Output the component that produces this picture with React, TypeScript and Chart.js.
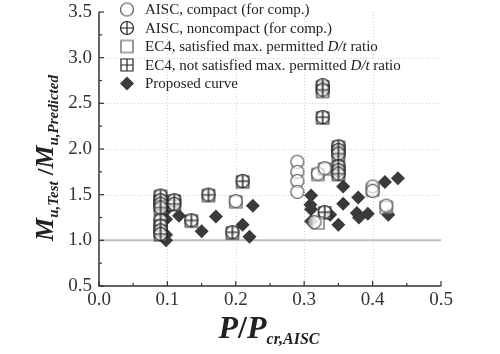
import { useEffect, useRef } from "react";
import { Chart, registerables } from "chart.js";
Chart.register(...registerables);

const SERIF = '"Liberation Serif", "Times New Roman", serif';

const xTicks = [0, 0.1, 0.2, 0.3, 0.4, 0.5];
const yTicks = [0.5, 1.0, 1.5, 2.0, 2.5, 3.0, 3.5];

const legendLabels = [
  "AISC, compact (for comp.)",
  "AISC, noncompact (for comp.)",
  "EC4, satisfied max. permitted D/t ratio",
  "EC4, not satisfied max. permitted D/t ratio",
  "Proposed curve",
];

const aiscCompactX = [0.2, 0.29, 0.29, 0.29, 0.29, 0.32, 0.33, 0.315, 0.4, 0.4, 0.42];
const aiscCompactY = [1.43, 1.86, 1.75, 1.65, 1.53, 1.73, 1.79, 1.2, 1.59, 1.54, 1.38];

const aiscNonX = [0.09, 0.09, 0.09, 0.09, 0.09, 0.09, 0.09, 0.09, 0.11, 0.11, 0.135, 0.16, 0.195, 0.21, 0.327, 0.327, 0.327, 0.35, 0.35, 0.35, 0.35, 0.35, 0.35, 0.33];
const aiscNonY = [1.49, 1.44, 1.4, 1.36, 1.22, 1.16, 1.11, 1.07, 1.44, 1.4, 1.22, 1.5, 1.09, 1.65, 2.7, 2.65, 2.35, 2.03, 1.99, 1.95, 1.81, 1.77, 1.73, 1.31];

const ec4SatX = [0.2, 0.32, 0.33, 0.32, 0.4, 0.42];
const ec4SatY = [1.42, 1.72, 1.78, 1.19, 1.55, 1.36];

const ec4NotX = [0.09, 0.09, 0.09, 0.09, 0.09, 0.09, 0.09, 0.09, 0.11, 0.11, 0.135, 0.16, 0.195, 0.21, 0.327, 0.327, 0.327, 0.35, 0.35, 0.35, 0.35, 0.35, 0.35, 0.33];
const ec4NotY = [1.48, 1.43, 1.39, 1.35, 1.21, 1.15, 1.1, 1.06, 1.43, 1.39, 1.21, 1.49, 1.08, 1.64, 2.68, 2.63, 2.34, 2.02, 1.98, 1.94, 1.8, 1.76, 1.72, 1.3];

const proposedX = [0.098, 0.098, 0.098, 0.098, 0.117, 0.15, 0.171, 0.21, 0.22, 0.225, 0.31, 0.309, 0.31, 0.31, 0.338, 0.35, 0.357, 0.357, 0.379, 0.377, 0.38, 0.393, 0.418, 0.437, 0.423];
const proposedY = [1.33, 1.23, 1.06, 1.0, 1.27, 1.1, 1.26, 1.17, 1.04, 1.38, 1.49, 1.39, 1.34, 1.21, 1.28, 1.17, 1.59, 1.4, 1.47, 1.3, 1.25, 1.29, 1.64, 1.68, 1.28];

const pts = (xs: number[], ys: number[]) => xs.map((x, i) => ({ x, y: ys[i] }));

function makeMarker(kind: "circle" | "circleCross" | "square" | "squareCross") {
  const c = document.createElement("canvas");
  c.width = 18;
  c.height = 18;
  const g = c.getContext("2d")!;
  const cx = 9, cy = 9;
  g.lineWidth = 1.2;
  if (kind === "circle" || kind === "circleCross") {
    g.strokeStyle = kind === "circle" ? "#555" : "#222";
    g.fillStyle = "rgba(255,255,255,0.6)";
    g.beginPath();
    g.arc(cx, cy, 6.5, 0, Math.PI * 2);
    g.fill();
    g.stroke();
    if (kind === "circleCross") {
      g.beginPath();
      g.moveTo(cx - 6.5, cy);
      g.lineTo(cx + 6.5, cy);
      g.moveTo(cx, cy - 6.5);
      g.lineTo(cx, cy + 6.5);
      g.stroke();
    }
  } else {
    g.strokeStyle = kind === "square" ? "#555" : "#222";
    g.fillStyle = "rgba(255,255,255,0.6)";
    g.beginPath();
    g.rect(cx - 6, cy - 6, 12, 12);
    g.fill();
    g.stroke();
    if (kind === "squareCross") {
      g.beginPath();
      g.moveTo(cx - 6, cy);
      g.lineTo(cx + 6, cy);
      g.moveTo(cx, cy - 6);
      g.lineTo(cx, cy + 6);
      g.stroke();
    }
  }
  return c;
}

type Seg = { t: string; size: number; italic: boolean; dy: number };

function drawSegs(ctx: CanvasRenderingContext2D, segs: Seg[], x0: number, y0: number, center: boolean) {
  const font = (s: Seg) => `${s.italic ? "italic " : ""}bold ${s.size}px ${SERIF}`;
  let total = 0;
  segs.forEach((s) => {
    ctx.font = font(s);
    total += ctx.measureText(s.t).width;
  });
  let x = center ? x0 - total / 2 : x0;
  segs.forEach((s) => {
    ctx.font = font(s);
    ctx.fillText(s.t, x, y0 + s.dy);
    x += ctx.measureText(s.t).width;
  });
}

export default function App() {
  const ref = useRef<HTMLCanvasElement>(null);
  useEffect(() => {
    document.body.style.margin = "0";
    const mCircle = makeMarker("circle");
    const mCircleCross = makeMarker("circleCross");
    const mSquare = makeMarker("square");
    const mSquareCross = makeMarker("squareCross");

    const frame = {
      id: "frame",
      beforeDatasetsDraw(chart: any) {
        const ctx: CanvasRenderingContext2D = chart.ctx;
        const xs = chart.scales.x;
        const ys = chart.scales.y;
        const { left, right, top, bottom } = chart.chartArea;
        ctx.save();
        ctx.strokeStyle = "#d0d0d0";
        ctx.lineWidth = 1;
        ctx.setLineDash([1, 2]);
        xTicks.forEach((v) => {
          if (v <= 0 || v >= 0.5) return;
          const px = Math.round(xs.getPixelForValue(v)) + 0.5;
          ctx.beginPath();
          ctx.moveTo(px, top);
          ctx.lineTo(px, bottom);
          ctx.stroke();
        });
        yTicks.forEach((v) => {
          if (v <= 1.0 || v >= 3.5) return;
          const py = Math.round(ys.getPixelForValue(v)) + 0.5;
          ctx.beginPath();
          ctx.moveTo(left, py);
          ctx.lineTo(right, py);
          ctx.stroke();
        });
        ctx.setLineDash([]);
        ctx.strokeStyle = "#bdbdbd";
        ctx.lineWidth = 2;
        const p1 = ys.getPixelForValue(1.0);
        ctx.beginPath();
        ctx.moveTo(left, p1);
        ctx.lineTo(right, p1);
        ctx.stroke();
        ctx.strokeStyle = "#333";
        ctx.lineWidth = 1.5;
        ctx.beginPath();
        ctx.moveTo(left, top);
        ctx.lineTo(left, bottom);
        ctx.lineTo(right, bottom);
        ctx.stroke();
        ctx.lineWidth = 1.2;
        for (let i = 0; i <= 10; i++) {
          const v = i * 0.05;
          const px = xs.getPixelForValue(v);
          const len = i % 2 === 0 ? 5 : 3;
          ctx.beginPath();
          ctx.moveTo(px, bottom);
          ctx.lineTo(px, bottom - len);
          ctx.stroke();
        }
        for (let i = 0; i <= 12; i++) {
          const v = 0.5 + i * 0.25;
          const py = ys.getPixelForValue(v);
          const len = i % 2 === 0 ? 5 : 3;
          ctx.beginPath();
          ctx.moveTo(left, py);
          ctx.lineTo(left + len, py);
          ctx.stroke();
        }
        ctx.fillStyle = "#333";
        ctx.font = `19px ${SERIF}`;
        ctx.textAlign = "center";
        ctx.textBaseline = "middle";
        xTicks.forEach((v) => {
          ctx.fillText(v.toFixed(1), xs.getPixelForValue(v), bottom + 14);
        });
        ctx.textAlign = "right";
        yTicks.forEach((v) => {
          ctx.fillText(v.toFixed(1), left - 7, ys.getPixelForValue(v));
        });
        ctx.fillStyle = "#222";
        ctx.textAlign = "left";
        ctx.textBaseline = "alphabetic";
        drawSegs(
          ctx,
          [
            { t: "P", size: 32, italic: true, dy: 0 },
            { t: "/", size: 32, italic: false, dy: 0 },
            { t: "P", size: 32, italic: true, dy: 0 },
            { t: "cr,AISC", size: 16, italic: true, dy: 6 },
          ],
          (left + right) / 2 - 1,
          338,
          true
        );
        ctx.save();
        ctx.translate(53, 158);
        ctx.rotate(-Math.PI / 2);
        drawSegs(
          ctx,
          [
            { t: "M", size: 26, italic: true, dy: 0 },
            { t: "u,Test", size: 15, italic: true, dy: 5 },
            { t: " /", size: 24, italic: false, dy: 0 },
            { t: "M", size: 26, italic: true, dy: 0 },
            { t: "u,Predicted", size: 15, italic: true, dy: 5 },
          ],
          0,
          0,
          true
        );
        ctx.restore();
        ctx.restore();
      },
      afterDatasetsDraw(chart: any) {
        const ctx: CanvasRenderingContext2D = chart.ctx;
        ctx.save();
        const sx = 127;
        const tx = 145;
        const rows = [9.5, 28, 46.5, 65, 83.5];
        const imgs = [mCircle, mCircleCross, mSquare, mSquareCross];
        ctx.textBaseline = "middle";
        ctx.fillStyle = "#222";
        legendLabels.forEach((lab, i) => {
          const y = rows[i];
          if (i < 4) {
            ctx.drawImage(imgs[i], sx - 9, y - 9);
          } else {
            ctx.fillStyle = "#3a3a3a";
            ctx.beginPath();
            ctx.moveTo(sx, y - 7);
            ctx.lineTo(sx + 7, y);
            ctx.lineTo(sx, y + 7);
            ctx.lineTo(sx - 7, y);
            ctx.closePath();
            ctx.fill();
            ctx.fillStyle = "#222";
          }
          const idx = lab.indexOf("D/t");
          let x = tx;
          const parts = idx >= 0 ? [lab.slice(0, idx), "D/t", lab.slice(idx + 3)] : [lab];
          parts.forEach((p, k) => {
            ctx.font = `${k === 1 ? "italic " : ""}15px ${SERIF}`;
            ctx.fillText(p, x, y + 1);
            x += ctx.measureText(p).width;
          });
        });
        ctx.restore();
      },
    };

    const chart = new Chart(ref.current!, {
      type: "scatter",
      data: {
        datasets: [
          { label: legendLabels[0], data: pts(aiscCompactX, aiscCompactY), pointStyle: mCircle as any, pointRadius: 7 },
          { label: legendLabels[2], data: pts(ec4SatX, ec4SatY), pointStyle: mSquare as any, pointRadius: 7 },
          { label: legendLabels[1], data: pts(aiscNonX, aiscNonY), pointStyle: mCircleCross as any, pointRadius: 7 },
          { label: legendLabels[3], data: pts(ec4NotX, ec4NotY), pointStyle: mSquareCross as any, pointRadius: 7 },
          {
            label: legendLabels[4],
            data: pts(proposedX, proposedY),
            pointStyle: "rectRot",
            pointRadius: 7,
            backgroundColor: "#3a3a3a",
            borderColor: "#3a3a3a",
            borderWidth: 0,
          },
        ],
      },
      options: {
        animation: false,
        responsive: false,
        maintainAspectRatio: false,
        layout: { padding: { left: 99, right: 59, top: 12, bottom: 68 } },
        plugins: { legend: { display: false }, tooltip: { enabled: false } },
        scales: {
          x: { type: "linear", display: false, min: 0, max: 0.5 },
          y: { type: "linear", display: false, min: 0.5, max: 3.5 },
        },
      },
      plugins: [frame],
    });
    return () => chart.destroy();
  }, []);
  return <canvas ref={ref} width={500} height={354} style={{ display: "block" }} />;
}
